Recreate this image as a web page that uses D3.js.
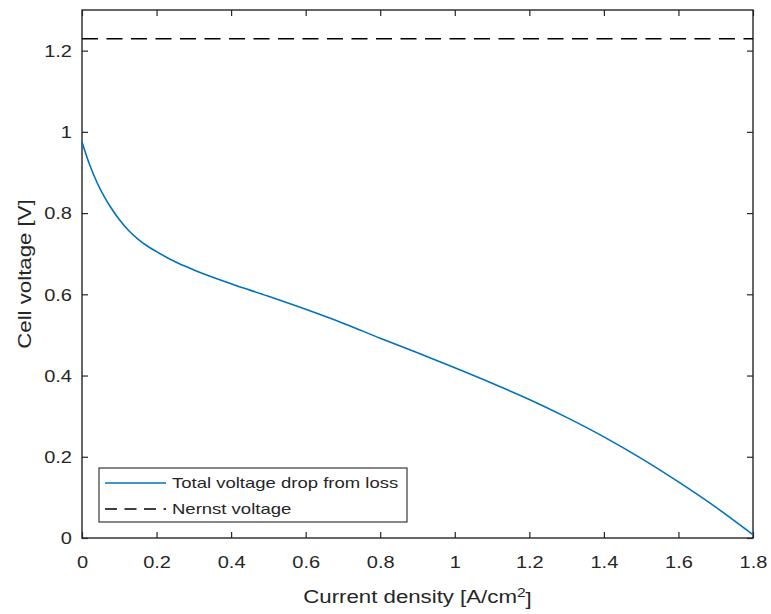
<!DOCTYPE html>
<html>
<head>
<meta charset="utf-8">
<script src="https://cdn.jsdelivr.net/npm/d3@7"></script>
<style>
  body { margin: 0; background: #fff; }
  svg text { font-family: "Liberation Sans", Arial, Helvetica, sans-serif; fill: #262626; }
</style>
</head>
<body>
<div id="chart"></div>
<script>
// current density [A/cm2] and cell voltage [V]
const currentDensity = [0, 0.02, 0.04, 0.06, 0.08, 0.1, 0.125, 0.15, 0.175, 0.2, 0.25, 0.3, 0.4, 0.5,
    0.6, 0.7, 0.8, 0.9, 1.0, 1.1, 1.2, 1.3, 1.4, 1.5, 1.6, 1.7, 1.8];
const cellVoltage = [0.975, 0.92, 0.876, 0.84, 0.81, 0.784, 0.757, 0.736, 0.719, 0.705, 0.68, 0.66, 0.626, 0.595,
    0.563, 0.529, 0.492, 0.456, 0.419, 0.381, 0.341, 0.297, 0.249, 0.196, 0.138, 0.076, 0.008];
const nernstVoltage = 1.229;

const xTicks = [0, 0.2, 0.4, 0.6, 0.8, 1, 1.2, 1.4, 1.6, 1.8];
const yTicks = [0, 0.2, 0.4, 0.6, 0.8, 1, 1.2];
const seriesNames = ['Total voltage drop from loss', 'Nernst voltage'];

const width = 771, height = 614;
const margin = {top: 10, right: 18, bottom: 76, left: 82};
const stretch = 1.25; // glyphs in the figure are wider than plain Arial

const svg = d3.select('#chart').append('svg')
    .attr('width', width)
    .attr('height', height);

const plotW = width - margin.left - margin.right,
      plotH = height - margin.top - margin.bottom;

const scaleX = d3.scaleLinear([0, 1.8], [0, plotW]);
const scaleY = d3.scaleLinear([0, 1.3], [plotH, 0]);

const chart = svg.append('g')
    .attr('transform', `translate(${margin.left}, ${margin.top})`);

// axes, MATLAB style: inward ticks on all four sides
const axisColor = '#262626';
const fmt = d => String(d);
function styleAxis(g) {
    g.select('.domain').remove();
    g.selectAll('.tick line').attr('stroke', axisColor).attr('stroke-width', 1.2);
}

chart.append('g')
    .attr('transform', `translate(0, ${plotH})`)
    .call(d3.axisBottom(scaleX).tickValues(xTicks).tickFormat(fmt).tickSizeInner(-6).tickSizeOuter(0))
    .call(styleAxis)
    .call(g => g.selectAll('.tick text')
        .attr('y', null).attr('dy', null)
        .attr('transform', `translate(0, 30) scale(${stretch}, 1)`)
        .style('font-size', '16px'));

chart.append('g')
    .call(d3.axisTop(scaleX).tickValues(xTicks).tickSizeInner(-6).tickSizeOuter(0).tickFormat(''))
    .call(styleAxis);

chart.append('g')
    .call(d3.axisLeft(scaleY).tickValues(yTicks).tickFormat(fmt).tickSizeInner(-6).tickSizeOuter(0))
    .call(styleAxis)
    .call(g => g.selectAll('.tick text')
        .attr('x', null)
        .attr('dy', '0.36em')
        .attr('transform', `translate(-10, 0) scale(${stretch}, 1)`)
        .style('font-size', '16px'));

chart.append('g')
    .attr('transform', `translate(${plotW}, 0)`)
    .call(d3.axisRight(scaleY).tickValues(yTicks).tickSizeInner(-6).tickSizeOuter(0).tickFormat(''))
    .call(styleAxis);

// box
chart.append('rect')
    .attr('width', plotW).attr('height', plotH)
    .attr('fill', 'none')
    .attr('stroke', axisColor)
    .attr('stroke-width', 1.4);

// nernst line
chart.append('line')
    .attr('x1', 0).attr('x2', plotW)
    .attr('y1', scaleY(nernstVoltage)).attr('y2', scaleY(nernstVoltage))
    .attr('stroke', '#000')
    .attr('stroke-width', 1.5)
    .attr('stroke-dasharray', '16,8.5');

// polarisation curve
const line = d3.line()
    .x((d, i) => scaleX(currentDensity[i]))
    .y(d => scaleY(d))
    .curve(d3.curveMonotoneX);

chart.append('path')
    .datum(cellVoltage)
    .attr('d', line)
    .attr('fill', 'none')
    .attr('stroke', '#0072BD')
    .attr('stroke-width', 1.6);

// axis labels
const labelX = svg.append('text')
    .attr('transform', `translate(${margin.left + plotW / 2}, 603) scale(${stretch}, 1)`)
    .style('text-anchor', 'middle')
    .style('font-size', '17.8px')
    .text('Current density [A/cm');
labelX.append('tspan').attr('dy', '-0.45em').style('font-size', '12.5px').text('2');
labelX.append('tspan').attr('dy', '0.45em').text(']');

svg.append('text')
    .attr('transform', `translate(31, ${margin.top + plotH / 2}) rotate(-90) scale(${stretch}, 1)`)
    .style('text-anchor', 'middle')
    .style('font-size', '17.8px')
    .text('Cell voltage [V]');

// legend
const legend = svg.append('g').attr('transform', 'translate(99, 468)');
legend.append('rect')
    .attr('width', 308).attr('height', 54)
    .attr('fill', '#fff')
    .attr('stroke', axisColor)
    .attr('stroke-width', 1.1);

const legendStyles = [
    {stroke: '#0072BD', dash: null, width: 1.6},
    {stroke: '#000', dash: '12,7.5', width: 1.5}
];
seriesNames.forEach((name, i) => {
    const y = 15 + i * 26;
    legend.append('line')
        .attr('x1', 6).attr('x2', 67)
        .attr('y1', y).attr('y2', y)
        .attr('stroke', legendStyles[i].stroke)
        .attr('stroke-width', legendStyles[i].width)
        .attr('stroke-dasharray', legendStyles[i].dash);
    legend.append('text')
        .attr('transform', `translate(73, ${y}) scale(${stretch}, 1)`)
        .attr('dy', '0.36em')
        .style('font-size', '14.8px')
        .text(name);
});
</script>
</body>
</html>
